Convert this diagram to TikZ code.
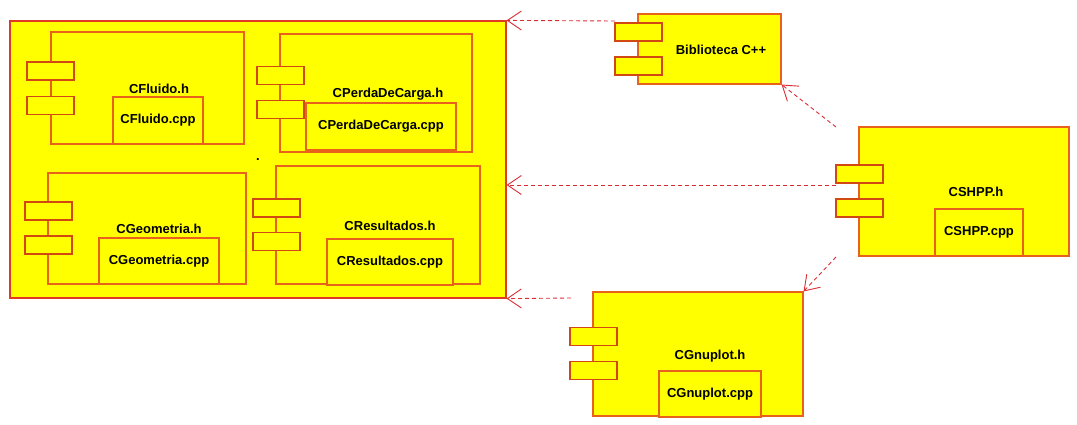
\documentclass[tikz,border=0pt]{standalone}
\usepackage{fontspec}
\setmainfont{Liberation Sans}
\usepackage{xcolor}
\usepackage{tikz}
\usetikzlibrary{arrows.meta}

\definecolor{compfill}{RGB}{255,255,0}
\definecolor{compline}{RGB}{232,98,28}
\definecolor{portline}{RGB}{210,72,18}
\definecolor{pkgline}{RGB}{225,58,36}
\definecolor{depline}{RGB}{218,44,52}

\begin{document}
\begin{tikzpicture}[x=1pt, y=-1pt,
    body/.style={draw=compline, fill=compfill, line width=1.1pt, inner sep=0pt},
    port/.style={draw=portline, fill=compfill, line width=1.1pt, inner sep=0pt,
        minimum width=47pt, minimum height=18pt},
    cpp/.style={draw=compline, fill=compfill, line width=1.1pt, inner sep=0pt,
        font=\bfseries\fontsize{13}{15}\selectfont},
    lbl/.style={inner sep=0pt, font=\bfseries\fontsize{13}{15}\selectfont},
    dep/.style={draw=depline, line width=0.9pt, dash pattern=on 4pt off 3pt,
        -{Straight Barb[length=14pt, width=19pt]}}]
    \useasboundingbox (0,0) rectangle (1077,424);

    \node[draw=pkgline, fill=compfill, line width=1.2pt, inner sep=0pt,
        minimum width=496pt, minimum height=277pt] (pkg) at (258,159.5) {};
    \node[lbl] (pkgdot) at (258,160) {.};

    \node[body, minimum width=193pt, minimum height=112pt] (fluido) at (147.5,88) {};
    \node[port] (fluidop1) at (50.5,71) {};
    \node[port] (fluidop2) at (50.5,105.5) {};
    \node[lbl] (fluidoh) at (159,89) {CFluido.h};
    \node[cpp, minimum width=90pt, minimum height=47pt] (fluidocpp) at (158,120.5) {CFluido.cpp};

    \node[body, minimum width=192pt, minimum height=118pt] (perda) at (376,93) {};
    \node[port] (perdap1) at (280.5,75.5) {};
    \node[port] (perdap2) at (280.5,109.5) {};
    \node[lbl] (perdah) at (388,94) {CPerdaDeCarga.h};
    \node[cpp, minimum width=150pt, minimum height=47pt] (perdacpp) at (381,126.5) {CPerdaDeCarga.cpp};

    \node[body, minimum width=198pt, minimum height=111pt] (geom) at (147,228.5) {};
    \node[port] (geomp1) at (48.5,211) {};
    \node[port] (geomp2) at (48.5,245) {};
    \node[lbl] (geomh) at (159,229) {CGeometria.h};
    \node[cpp, minimum width=120pt, minimum height=46pt] (geomcpp) at (159,261) {CGeometria.cpp};

    \node[body, minimum width=204pt, minimum height=118pt] (result) at (378,225) {};
    \node[port] (resultp1) at (276.5,208) {};
    \node[port] (resultp2) at (276.5,241.5) {};
    \node[lbl] (resulth) at (390,226) {CResultados.h};
    \node[cpp, minimum width=126pt, minimum height=46pt] (resultcpp) at (390,262) {CResultados.cpp};

    \node[body, minimum width=143pt, minimum height=70pt] (biblio) at (709.5,49) {};
    \node[port] (bibliop1) at (638.5,32) {};
    \node[port] (bibliop2) at (638.5,66) {};
    \node[lbl] (biblioh) at (721,50) {Biblioteca C++};

    \node[body, minimum width=210pt, minimum height=129pt] (shpp) at (964,191.5) {};
    \node[port] (shppp1) at (859.5,174) {};
    \node[port] (shppp2) at (859.5,208) {};
    \node[lbl] (shpph) at (976,192) {CSHPP.h};
    \node[cpp, minimum width=88pt, minimum height=47pt] (shppcpp) at (979,232.5) {CSHPP.cpp};

    \node[body, minimum width=210pt, minimum height=124pt] (gnu) at (698,354) {};
    \node[port] (gnup1) at (593.5,336.5) {};
    \node[port] (gnup2) at (593.5,370.5) {};
    \node[lbl] (gnuh) at (710,356) {CGnuplot.h};
    \node[cpp, minimum width=102pt, minimum height=46pt] (gnucpp) at (710,394) {CGnuplot.cpp};

    \coordinate (biblioout) at (615,21);
    \coordinate (shpptop) at (836,127);
    \coordinate (shppmid) at (836,185);
    \coordinate (shppbot) at (836,257);
    \coordinate (gnuout) at (571,298);

    \draw[dep] (biblioout) -- (pkg.north east);
    \draw[dep] (shpptop) -- (biblio.south east);
    \draw[dep] (shppmid) -- (pkg.east |- shppmid);
    \draw[dep] (shppbot) -- (gnu.north east);
    \draw[dep] (gnuout) -- (pkg.south east);
\end{tikzpicture}
\end{document}
